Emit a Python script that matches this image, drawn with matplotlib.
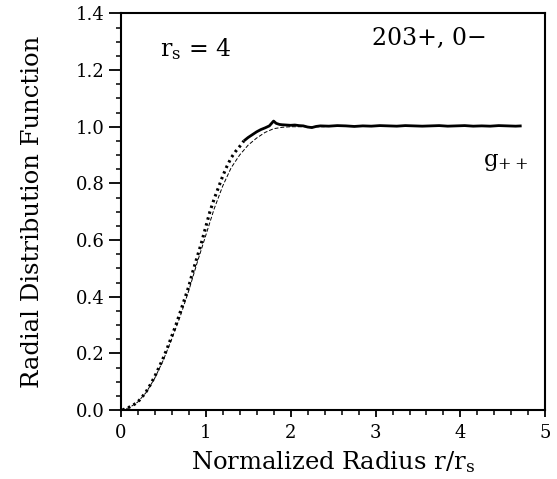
import matplotlib
matplotlib.use("Agg")
import matplotlib.pyplot as plt
from matplotlib.ticker import MultipleLocator
import numpy as np

# simulation g++
r_sim = [0.02, 0.05, 0.10, 0.15, 0.20, 0.25, 0.30, 0.35, 0.40, 0.45, 0.50, 0.55,
         0.60, 0.65, 0.70, 0.75, 0.80, 0.85, 0.90, 0.95, 1.00, 1.05, 1.10, 1.15,
         1.20, 1.25, 1.30, 1.35, 1.40, 1.45, 1.50, 1.55, 1.60, 1.65, 1.70, 1.75,
         1.80, 1.83, 1.87, 1.90, 1.95, 2.00, 2.05, 2.10, 2.15, 2.20, 2.25, 2.30,
         2.35, 2.45, 2.55, 2.65, 2.75, 2.85, 2.95, 3.05, 3.15, 3.25, 3.35, 3.45,
         3.55, 3.65, 3.75, 3.85, 3.95, 4.05, 4.15, 4.25, 4.35, 4.45, 4.55, 4.65, 4.72]
g_sim = [0.000, 0.004, 0.010, 0.018, 0.028, 0.045, 0.065, 0.090, 0.118, 0.150, 0.183, 0.220,
         0.260, 0.300, 0.345, 0.390, 0.435, 0.490, 0.540, 0.590, 0.645, 0.700, 0.745, 0.785,
         0.825, 0.860, 0.890, 0.912, 0.930, 0.950, 0.962, 0.972, 0.982, 0.990, 0.996, 1.003,
         1.020, 1.012, 1.008, 1.007, 1.006, 1.005, 1.006, 1.004, 1.003, 0.999, 0.997, 1.001,
         1.003, 1.002, 1.004, 1.003, 1.001, 1.003, 1.002, 1.004, 1.003, 1.002, 1.004, 1.003,
         1.002, 1.003, 1.004, 1.002, 1.003, 1.004, 1.002, 1.003, 1.002, 1.004, 1.003, 1.002, 1.003]

# theory curve (thin dashed)
r_th = [0.0, 0.1, 0.2, 0.3, 0.4, 0.5, 0.6, 0.7, 0.8, 0.9, 1.0, 1.1, 1.2,
        1.3, 1.4, 1.5, 1.6, 1.7, 1.8, 1.9, 2.0, 2.2, 2.4]
g_th = [0.0, 0.008, 0.028, 0.062, 0.112, 0.175, 0.25, 0.33, 0.42, 0.52, 0.615, 0.71, 0.79,
        0.855, 0.90, 0.935, 0.96, 0.98, 0.993, 0.998, 1.0, 1.0, 1.0]

plt.rcParams["font.family"] = "DejaVu Serif"
plt.rcParams["mathtext.fontset"] = "dejavuserif"

fig = plt.figure(figsize=(5.57, 4.79), dpi=100)
ax = fig.add_axes([0.2167, 0.144, 0.7625, 0.828])

ax.plot(r_th, g_th, color="black", lw=0.7, ls=(0, (4, 2)))
k = 29  # dotted-looking part of the curve ends around r/rs = 1.45
ax.plot(r_sim[:k + 1], g_sim[:k + 1], color="black", lw=2.2, ls=(0, (0.8, 1.2)))
ax.plot(r_sim[k:], g_sim[k:], color="black", lw=2.0,
        solid_capstyle="butt", solid_joinstyle="round")

ax.set_xlim(0, 5)
ax.set_ylim(0, 1.4)
ax.xaxis.set_major_locator(MultipleLocator(1))
ax.xaxis.set_minor_locator(MultipleLocator(0.2))
ax.yaxis.set_major_locator(MultipleLocator(0.2))
ax.yaxis.set_minor_locator(MultipleLocator(0.05))
ax.yaxis.set_major_formatter(lambda v, p: f"{v:.1f}")
ax.tick_params(axis="x", which="major", length=5, width=1.3, pad=5, labelsize=13)
ax.tick_params(axis="y", which="major", length=8.5, width=1.3, pad=3, labelsize=13)
ax.tick_params(which="minor", length=3.5, width=1.1)
for s in ax.spines.values():
    s.set_linewidth(1.5)

ax.set_xlabel(r"Normalized Radius r/$\mathrm{r_s}$", fontsize=17.5, labelpad=5)
ax.set_ylabel("Radial Distribution Function", fontsize=17.5, labelpad=23)

ax.text(0.46, 1.25, r"$\mathrm{r_s}$ = 4", fontsize=17, ha="left", va="baseline")
ax.text(2.96, 1.29, "203+, 0\u2212", fontsize=17, ha="left", va="baseline")
ax.text(4.26, 0.86, r"$\mathrm{g_{++}}$", fontsize=16.5, ha="left", va="baseline")

fig.savefig("out.png", dpi=100)
